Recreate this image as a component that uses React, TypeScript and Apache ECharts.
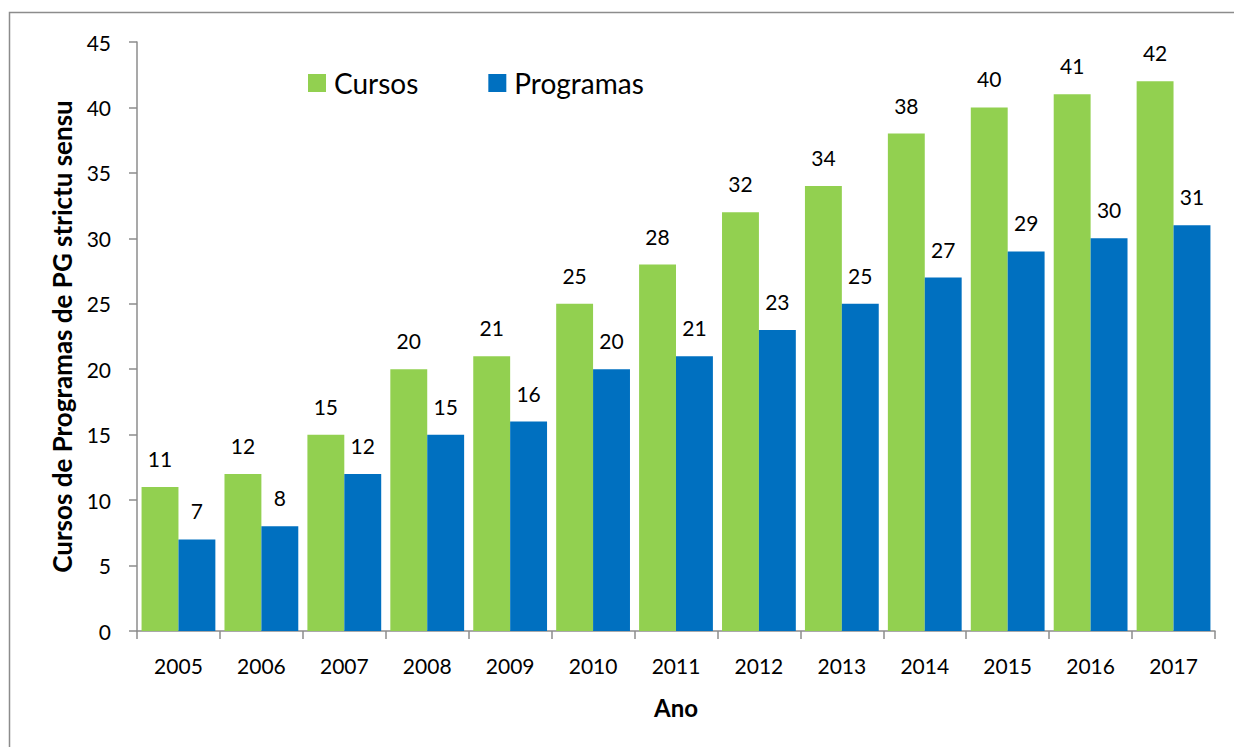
import React, { useEffect, useRef } from "react";
import * as echarts from "echarts";

const anos = ["2005", "2006", "2007", "2008", "2009", "2010", "2011", "2012", "2013", "2014", "2015", "2016", "2017"];
const cursos = [11, 12, 15, 20, 21, 25, 28, 32, 34, 38, 40, 41, 42];
const programas = [7, 8, 12, 15, 16, 20, 21, 23, 25, 27, 29, 30, 31];

const FONT = "Lato, 'Open Sans', sans-serif";

export default function App() {
  const ref = useRef<HTMLDivElement>(null);
  useEffect(() => {
    if (!ref.current) return;
    const chart = echarts.init(ref.current, undefined, { renderer: "svg" });
    const labelStyle = { show: true, position: "top", distance: 18, fontSize: 21, color: "#000", fontFamily: FONT };
    chart.setOption({
      animation: false,
      backgroundColor: "#fff",
      textStyle: { fontFamily: FONT },
      graphic: [
        {
          type: "rect",
          shape: { x: 9.5, y: 12.5, width: 1400, height: 900 },
          style: { fill: "none", stroke: "#8c8c8c", lineWidth: 1.5 },
          silent: true,
        },
      ],
      grid: { left: 137, right: 19, top: 42, bottom: 116, containLabel: false },
      legend: {
        left: 303,
        top: 64,
        itemWidth: 18,
        itemHeight: 18,
        itemGap: 70,
        icon: "rect",
        textStyle: { fontSize: 28, color: "#000", fontFamily: FONT, padding: [0, 0, 0, 3] },
        data: ["Cursos", "Programas"],
      },
      xAxis: {
        type: "category",
        data: anos,
        name: "Ano",
        nameLocation: "middle",
        nameGap: 64,
        nameTextStyle: { fontSize: 24, fontWeight: "bold", color: "#000", fontFamily: FONT },
        axisLine: { lineStyle: { color: "#8c8c8c", width: 1.5 } },
        axisTick: { show: true, length: 8, lineStyle: { color: "#8c8c8c", width: 1.5 } },
        axisLabel: { fontSize: 21, color: "#000", margin: 24, fontFamily: FONT },
      },
      yAxis: {
        type: "value",
        min: 0,
        max: 45,
        interval: 5,
        name: "Cursos de Programas de PG strictu sensu",
        nameLocation: "middle",
        nameGap: 62,
        nameTextStyle: { fontSize: 26, fontWeight: "bold", color: "#000", fontFamily: FONT },
        axisLine: { show: true, lineStyle: { color: "#8c8c8c", width: 1.5 } },
        axisTick: { show: true, length: 8, lineStyle: { color: "#8c8c8c", width: 1.5 } },
        splitLine: { show: false },
        axisLabel: { fontSize: 21, color: "#000", margin: 26, fontFamily: FONT },
      },
      series: [
        {
          name: "Cursos",
          type: "bar",
          data: cursos,
          barGap: "0%",
          barCategoryGap: "11%",
          itemStyle: { color: "#92D050" },
          label: labelStyle,
        },
        {
          name: "Programas",
          type: "bar",
          data: programas,
          barGap: "0%",
          barCategoryGap: "11%",
          itemStyle: { color: "#0070C0" },
          label: labelStyle,
        },
      ],
    });
    return () => chart.dispose();
  }, []);
  return (
    <div
      ref={ref}
      style={{ position: "absolute", left: 0, top: 0, width: 1234, height: 747 }}
    />
  );
}
